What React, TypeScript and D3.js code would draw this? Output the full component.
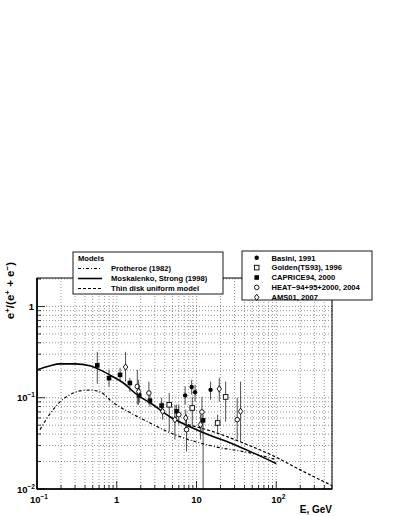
import React from 'react';
import * as d3 from 'd3';

// ---------- data ----------
// Model curves (E in GeV, positron fraction)
const mosE = [0.1, 0.146, 0.194, 0.299, 0.46, 0.616, 0.898, 1.2, 1.79, 2.85, 4.64, 8.27, 16.1, 26.2, 53.9, 100];
const mosV = [0.202, 0.224, 0.235, 0.235, 0.224, 0.202, 0.17, 0.146, 0.108, 0.0838, 0.0619, 0.0482, 0.0375, 0.0322, 0.0244, 0.019];

const proE = [0.109, 0.146, 0.194, 0.259, 0.346, 0.46, 0.616, 0.9, 1.46, 2.39, 4.27, 6.2, 16.1, 46.6, 100];
const proV = [0.0447, 0.0668, 0.09, 0.108, 0.119, 0.121, 0.116, 0.0885, 0.0688, 0.0551, 0.0428, 0.0375, 0.0294, 0.0249, 0.021];

const diskE = [7.8, 16.1, 35, 95.6, 197, 500];
const diskV = [0.0507, 0.0425, 0.033, 0.0227, 0.0163, 0.0109];

// Data points: energy, value, error-bar top, error-bar bottom
const basiniE = [7.2, 8.7, 9.6, 15.0];
const basiniV = [0.106, 0.131, 0.115, 0.122];
const basiniHi = [0.133, 0.157, 0.139, 0.15];
const basiniLo = [0.0838, 0.108, 0.0904, 0.0951];

const goldenE = [4.55, 8.85, 18.4, 23.2];
const goldenV = [0.0838, 0.0772, 0.0529, 0.102];
const goldenHi = [0.113, 0.1025, 0.0652, 0.15];
const goldenLo = [0.0425, 0.0482, 0.0414, 0.0547];

const capriceE = [0.57, 0.8, 1.1, 1.46, 1.91, 2.61, 3.65, 5.63, 12.1];
const capriceV = [0.226, 0.164, 0.178, 0.145, 0.106, 0.093, 0.082, 0.071, 0.0565];
const capriceHi = [0.318, 0.202, 0.213, 0.165, 0.129, 0.108, 0.1, 0.0838, 0.0652];
const capriceLo = [0.142, 0.132, 0.15, 0.116, 0.0882, 0.0797, 0.0703, 0.0575, 0.001];

const heatE = [1.81, 2.53, 6.0, 7.5, 11.7, 32.4];
const heatV = [0.133, 0.1125, 0.0652, 0.0447, 0.0698, 0.0575];
const heatHi = [0.202, 0.15, 0.0838, 0.0652, 0.1025, 0.1];
const heatLo = [0.0838, 0.0838, 0.0507, 0.0257, 0.0425, 0.0348];

const amsE = [1.29, 1.88, 3.76, 5.36, 7.33, 11.2, 19.3, 35.7];
const amsV = [0.217, 0.117, 0.0709, 0.0575, 0.06, 0.0507, 0.125, 0.0709];
const amsHi = [0.318, 0.157, 0.0882, 0.0838, 0.074, 0.0652, 0.165, 0.15];
const amsLo = [0.15, 0.0838, 0.0575, 0.0348, 0.047, 0.0348, 0.0904, 0.033];

const modelLabels = ['Protheroe (1982)', 'Moskalenko, Strong (1998)', 'Thin disk uniform model'];
const dataLabels = ['Basini, 1991', 'Golden(TS93), 1996', 'CAPRICE94, 2000', 'HEAT\u221294+95+2000, 2004', 'AMS01, 2007'];

const xTickExp = [-1, 0, 1, 2];
const yTickExp = [-2, -1, 0];

// ---------- layout ----------
const W = 399, H = 516;
const L = 37, R = 332, T = 278, B = 489;
const FONT = '"Liberation Sans", Arial, Helvetica, sans-serif';

const x = d3.scaleLog().domain([0.1, 500]).range([L, R]);
const y = d3.scaleLog().domain([0.01, 2.05]).range([B, T]);

type Marker = 'fcircle' | 'osquare' | 'fsquare' | 'ocircle' | 'odiamond';

function MarkerShape({ kind, cx, cy }: { kind: Marker; cx: number; cy: number }) {
  const s = 2.3;
  switch (kind) {
    case 'fcircle':
      return <circle cx={cx} cy={cy} r={2.2} fill="#000" />;
    case 'ocircle':
      return <circle cx={cx} cy={cy} r={2.3} fill="#fff" stroke="#000" strokeWidth={0.9} />;
    case 'fsquare':
      return <rect x={cx - s} y={cy - s} width={2 * s} height={2 * s} fill="#000" />;
    case 'osquare':
      return <rect x={cx - s} y={cy - s} width={2 * s} height={2 * s} fill="#fff" stroke="#000" strokeWidth={0.9} />;
    case 'odiamond':
      return (
        <path
          d={`M${cx},${cy - 3.2}L${cx + 2.2},${cy}L${cx},${cy + 3.2}L${cx - 2.2},${cy}Z`}
          fill="#fff"
          stroke="#000"
          strokeWidth={0.9}
        />
      );
  }
  return null;
}

const series: { kind: Marker; E: number[]; V: number[]; hi: number[]; lo: number[] }[] = [
  { kind: 'fcircle', E: basiniE, V: basiniV, hi: basiniHi, lo: basiniLo },
  { kind: 'osquare', E: goldenE, V: goldenV, hi: goldenHi, lo: goldenLo },
  { kind: 'fsquare', E: capriceE, V: capriceV, hi: capriceHi, lo: capriceLo },
  { kind: 'ocircle', E: heatE, V: heatV, hi: heatHi, lo: heatLo },
  { kind: 'odiamond', E: amsE, V: amsV, hi: amsHi, lo: amsLo },
];
const legendKinds: Marker[] = ['fcircle', 'osquare', 'fsquare', 'ocircle', 'odiamond'];

export default function App() {
  const line = d3
    .line<[number, number]>()
    .x((d) => x(d[0]))
    .y((d) => y(d[1]))
    .curve(d3.curveMonotoneX);
  const zip = (a: number[], b: number[]) => a.map((v, i) => [v, b[i]] as [number, number]);

  // grid positions
  const xGrid: { v: number; major: boolean }[] = [];
  for (let e = -1; e <= 2; e++) for (let k = 1; k <= 9; k++) {
    const v = k * Math.pow(10, e);
    if (v >= 0.1 && v <= 500) xGrid.push({ v, major: k === 1 });
  }
  const yGrid: { v: number; major: boolean }[] = [];
  for (let e = -2; e <= 0; e++) for (let k = 1; k <= 9; k++) {
    const v = k * Math.pow(10, e);
    if (v >= 0.01 && v <= 2.05) yGrid.push({ v, major: k === 1 });
  }

  const clipY = (v: number) => Math.min(B, Math.max(T, y(Math.max(v, 1e-4))));

  return (
    <svg width={W} height={H} style={{ position: 'absolute', left: 0, top: 0, background: '#fff' }} fontFamily={FONT}>
      <defs>
        <clipPath id="plotclip">
          <rect x={L} y={T} width={R - L} height={B - T} />
        </clipPath>
      </defs>
      <rect x={0} y={0} width={W} height={H} fill="#fff" />

      {/* grid */}
      <g stroke="#7a7a7a" strokeWidth={0.8} strokeDasharray="1,2">
        {xGrid.map((g, i) => (
          <line key={'gx' + i} x1={x(g.v)} x2={x(g.v)} y1={T} y2={B} />
        ))}
        {yGrid.map((g, i) => (
          <line key={'gy' + i} x1={L} x2={R} y1={y(g.v)} y2={y(g.v)} />
        ))}
      </g>

      {/* model curves */}
      <g clipPath="url(#plotclip)" fill="none" stroke="#000">
        <path d={line(zip(proE, proV)) || ''} strokeWidth={1.2} strokeDasharray="3,2,1,2" />
        <path d={line(zip(mosE, mosV)) || ''} strokeWidth={1.6} />
        <path d={line(zip(diskE, diskV)) || ''} strokeWidth={1.2} strokeDasharray="3,2" />
      </g>

      {/* data points */}
      <g clipPath="url(#plotclip)">
        {series.map((s, si) =>
          s.E.map((e, i) => (
            <g key={`p${si}-${i}`}>
              <line x1={x(e)} x2={x(e)} y1={clipY(s.hi[i])} y2={clipY(s.lo[i])} stroke="#222" strokeWidth={0.8} />
              <MarkerShape kind={s.kind} cx={x(e)} cy={y(s.V[i])} />
            </g>
          ))
        )}
      </g>

      {/* ticks */}
      <g stroke="#000" strokeWidth={0.8}>
        {xGrid.map((g, i) => (
          <line key={'tx' + i} x1={x(g.v)} x2={x(g.v)} y1={B} y2={B - (g.major ? 8 : 4)} />
        ))}
        {yGrid.map((g, i) => (
          <line key={'ty' + i} x1={L} x2={L + (g.major ? 8 : 4)} y1={y(g.v)} y2={y(g.v)} />
        ))}
      </g>

      {/* frame */}
      <rect x={L} y={T} width={R - L} height={B - T} fill="none" stroke="#000" strokeWidth={1} />
      <line x1={L} x2={L} y1={T} y2={B} stroke="#000" strokeWidth={1.6} />
      <line x1={L} x2={R} y1={B} y2={B} stroke="#000" strokeWidth={1.6} />

      {/* tick labels */}
      <g fontSize={9.5} fontWeight="bold" fill="#000">
        {xTickExp.map((e) => {
          const px = x(Math.pow(10, e));
          if (e === 0) return <text key={'xl' + e} x={px} y={503} textAnchor="middle">1</text>;
          if (e === 1) return <text key={'xl' + e} x={px} y={503} textAnchor="middle">10</text>;
          return (
            <text key={'xl' + e} x={px + 2} y={503} textAnchor="middle">
              10<tspan dy={-4} fontSize={6.5}>{String(e).replace('-', '\u2212')}</tspan>
            </text>
          );
        })}
        {yTickExp.map((e) => {
          const py = y(Math.pow(10, e)) + 3.5;
          if (e === 0) return <text key={'yl' + e} x={34} y={py} textAnchor="end">1</text>;
          return (
            <text key={'yl' + e} x={35} y={py} textAnchor="end">
              10<tspan dy={-4} fontSize={6.5}>{String(e).replace('-', '\u2212')}</tspan>
            </text>
          );
        })}
      </g>

      {/* axis titles */}
      <text x={332} y={513} textAnchor="end" fontSize={10} fontWeight="bold">E, GeV</text>
      <text transform="translate(14,262) rotate(-90)" textAnchor="end" fontSize={11.5} fontWeight="bold">
        e<tspan dy={-4.5} fontSize={8}>+</tspan>
        <tspan dy={4.5}>/(e</tspan>
        <tspan dy={-4.5} fontSize={8}>+</tspan>
        <tspan dy={4.5}> + e</tspan>
        <tspan dy={-4.5} fontSize={8}>{'\u2212'}</tspan>
        <tspan dy={4.5}>)</tspan>
      </text>

      {/* models legend */}
      <g>
        <rect x={73} y={252} width={150} height={42} fill="#fff" stroke="#000" strokeWidth={0.9} />
        <text x={78} y={261} fontSize={7.6} fontWeight="bold">Models</text>
        {modelLabels.map((lab, i) => {
          const ly = 268.5 + i * 10;
          const dash = i === 0 ? '3,2,1,2' : i === 2 ? '3,2' : undefined;
          return (
            <g key={'ml' + i}>
              <line x1={78} x2={102} y1={ly} y2={ly} stroke="#000" strokeWidth={i === 1 ? 1.6 : 1.1} strokeDasharray={dash} />
              <text x={111} y={ly + 2.8} fontSize={7.6} fontWeight="bold">{lab}</text>
            </g>
          );
        })}
      </g>

      {/* data legend */}
      <g>
        <rect x={242} y={251} width={130} height={49} fill="#fff" stroke="#000" strokeWidth={0.9} />
        {dataLabels.map((lab, i) => {
          const ly = 257.7 + i * 9.9;
          return (
            <g key={'dl' + i}>
              <MarkerShape kind={legendKinds[i]} cx={256.7} cy={ly} />
              <text x={271.5} y={ly + 2.8} fontSize={7.6} fontWeight="bold">{lab}</text>
            </g>
          );
        })}
      </g>
    </svg>
  );
}
